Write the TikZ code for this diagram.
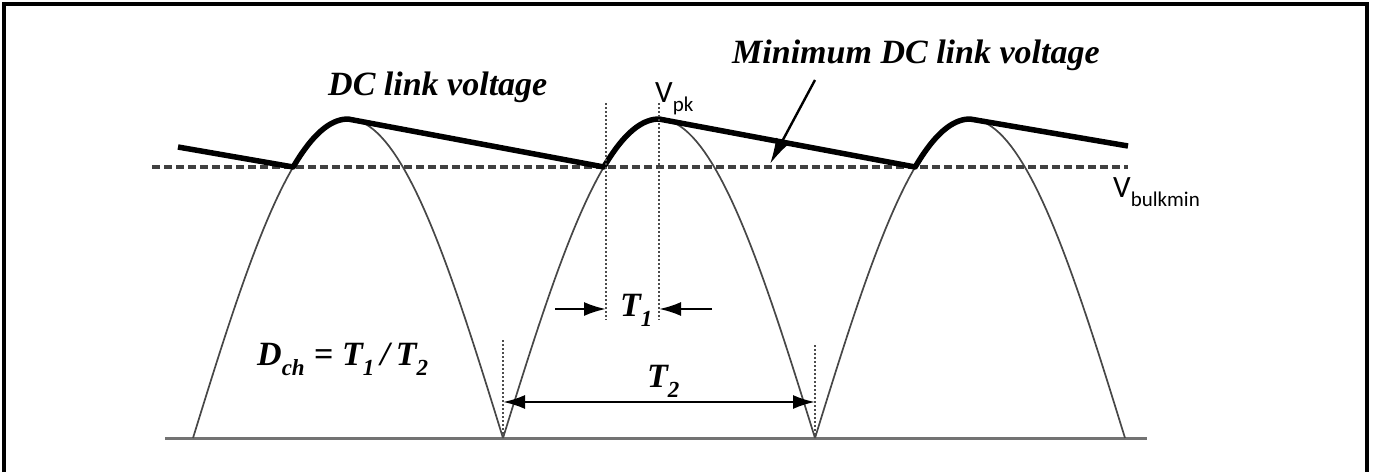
\documentclass[tikz,border=0pt]{standalone}
\usepackage{fontspec}
\newfontfamily\tnrfont{Liberation Serif}
\newfontfamily\calfont{Carlito}
\usetikzlibrary{arrows.meta}
\newcommand{\lowsub}[2]{\raisebox{-0.3em}{\fontsize{#1}{#1}\selectfont #2}}
\begin{document}
\begin{tikzpicture}[x=1pt,y=-1pt,
  frame/.style={line width=4pt, draw=black},
  arch/.style={line width=1.7pt, draw=black!72},
  env/.style={line width=5.5pt, line join=round, draw=black},
  base/.style={line width=3pt, draw=black!55},
  vmin/.style={line width=3.5pt, draw=black!75, dash pattern=on 8pt off 4pt},
  guide/.style={line width=1.5pt, draw=black!70, dash pattern=on 2pt off 2pt},
  dim/.style={line width=2.4pt, draw=black, -{Latex[length=22pt,width=14pt]}},
  dimboth/.style={line width=2.4pt, draw=black, {Latex[length=22pt,width=14pt]}-{Latex[length=22pt,width=14pt]}},
  ptr/.style={line width=2.4pt, draw=black, -{Latex[length=26pt,width=14pt]}},
  serlab/.style={inner sep=0pt, font=\tnrfont\bfseries\itshape\fontsize{34}{40}\selectfont},
  callab/.style={inner sep=0pt, font=\calfont\fontsize{31}{34}\selectfont}
]
\useasboundingbox (0,0) rectangle (1373,472);
% frame
\draw[frame] (4,472) -- (4,4) -- (1367,4) -- (1367,472);
% baseline
\coordinate (b0) at (165,438);
\coordinate (b1) at (1147,438);
\draw[base] (b0) -- (b1);
% rectified sine arches
\draw[arch] plot[domain=193:503, samples=80] (\x,{438-319*sin((\x-193)/310*180)});
\draw[arch] plot[domain=503:815, samples=80] (\x,{438-319*sin((\x-503)/312*180)});
\draw[arch] plot[domain=815:1125, samples=80] (\x,{438-319*sin((\x-815)/310*180)});
% minimum DC link voltage (dashed)
\coordinate (v0) at (152,167);
\coordinate (v1) at (1128,167);
\draw[vmin] (v0) -- (v1);
% DC link voltage envelope
\coordinate (e0) at (178,147);
\coordinate (e1) at (1128,146);
\draw[env] (e0) -- (293.2,167)
  -- plot[domain=293.2:348, samples=25] (\x,{438-319*sin((\x-193)/310*180)})
  -- (603.9,167)
  -- plot[domain=603.9:659, samples=25] (\x,{438-319*sin((\x-503)/312*180)})
  -- (915.2,167)
  -- plot[domain=915.2:970, samples=25] (\x,{438-319*sin((\x-815)/310*180)})
  -- (e1);
% guide lines
\coordinate (g1t) at (606,103); \coordinate (g1b) at (606,320);
\coordinate (g2t) at (659,103); \coordinate (g2b) at (659,320);
\coordinate (c1t) at (503,340); \coordinate (c1b) at (503,438);
\coordinate (c2t) at (815,345); \coordinate (c2b) at (815,438);
\draw[guide] (g1t) -- (g1b);
\draw[guide] (g2t) -- (g2b);
\draw[guide] (c1t) -- (c1b);
\draw[guide] (c2t) -- (c2b);
% T1 arrows
\coordinate (t1l) at (555,309); \coordinate (t1lt) at (606,309);
\coordinate (t1r) at (712,309); \coordinate (t1rt) at (659,309);
\draw[dim] (t1l) -- (t1lt);
\draw[dim] (t1r) -- (t1rt);
% T2 arrow
\coordinate (t2l) at (503,402); \coordinate (t2r) at (815,402);
\draw[dimboth] (t2l) -- (t2r);
% pointer to minimum voltage
\coordinate (p0) at (815,80); \coordinate (p1) at (770,164);
\draw[ptr] (p0) -- (p1);
% labels
\node[serlab, anchor=base west] (ldc) at (328,95) {DC link voltage};
\node[serlab, anchor=base west] (lmin) at (732,63) {Minimum DC link voltage};
\node[serlab, anchor=base west] (ldch) at (257,365) {D\lowsub{23}{ch}\hspace{9pt}=\hspace{9pt}T\lowsub{23}{1}\hspace{6pt}/\hspace{6pt}T\lowsub{23}{2}};
\node[serlab, anchor=base west] (lt1) at (620,316) {T\lowsub{23}{1}};
\node[serlab, anchor=base west] (lt2) at (647,387) {T\lowsub{23}{2}};
\node[callab, anchor=base west] (lpk) at (655,102) {V\lowsub{21}{pk}};
\node[callab, anchor=base west] (lbulk) at (1113,197) {V\lowsub{21}{bulkmin}};
\end{tikzpicture}
\end{document}
